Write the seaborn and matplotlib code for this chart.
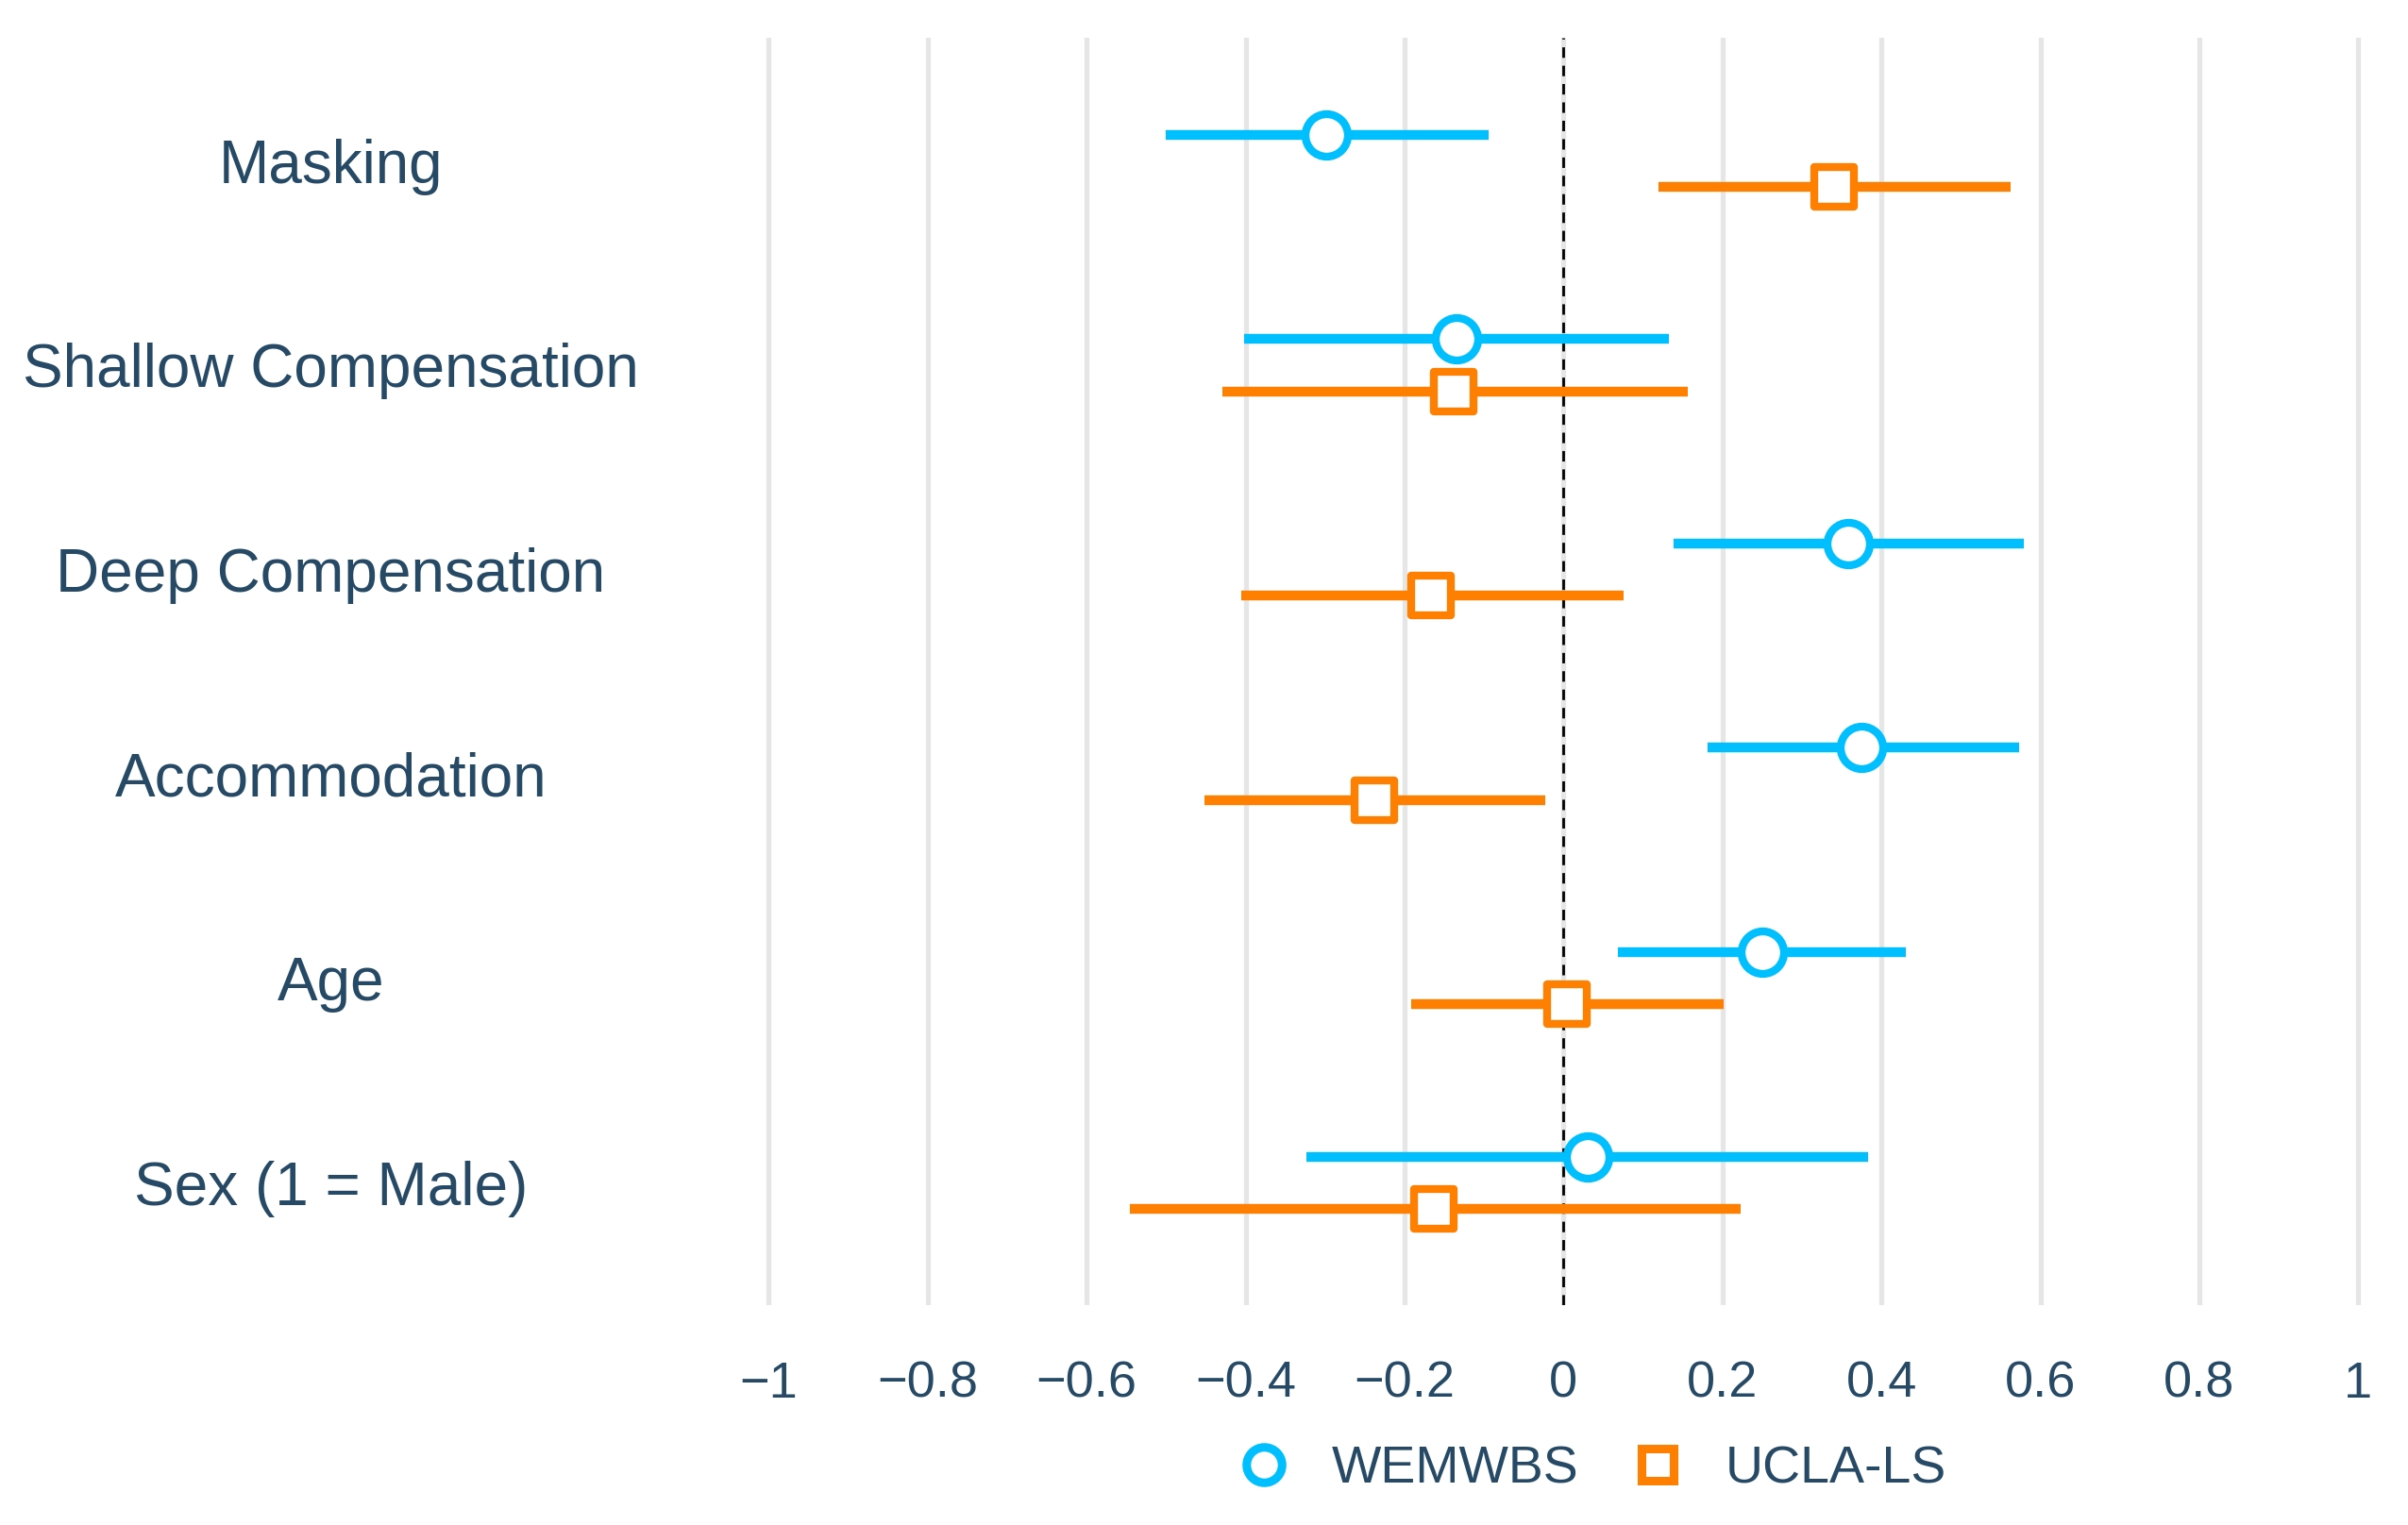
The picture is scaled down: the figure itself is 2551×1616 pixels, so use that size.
import numpy as np
import pandas as pd
import matplotlib
matplotlib.use("Agg")
import matplotlib.pyplot as plt
import seaborn as sns
from matplotlib.lines import Line2D

categories = ["Masking", "Shallow Compensation", "Deep Compensation",
              "Accommodation", "Age", "Sex (1 = Male)"]
series = ["WEMWBS", "UCLA-LS"]

wem_est = [-0.298, -0.135, 0.358, 0.375, 0.250, 0.031]
wem_lo = [-0.500, -0.402, 0.138, 0.181, 0.069, -0.323]
wem_hi = [-0.094, 0.133, 0.579, 0.573, 0.431, 0.383]

ucla_est = [0.340, -0.138, -0.167, -0.238, 0.004, -0.163]
ucla_lo = [0.119, -0.429, -0.406, -0.452, -0.192, -0.546]
ucla_hi = [0.563, 0.156, 0.075, -0.023, 0.202, 0.223]

xticks = [-1, -0.8, -0.6, -0.4, -0.2, 0, 0.2, 0.4, 0.6, 0.8, 1]
xticklabels = ["\u22121", "\u22120.8", "\u22120.6", "\u22120.4", "\u22120.2", "0",
               "0.2", "0.4", "0.6", "0.8", "1"]

colors = {"WEMWBS": "#00BFFF", "UCLA-LS": "#FF7F00"}
markers = {"WEMWBS": "o", "UCLA-LS": "s"}
offsets = {"WEMWBS": -0.128, "UCLA-LS": 0.128}
text_color = "#264A66"

rows = []
for s, est, lo, hi in [("WEMWBS", wem_est, wem_lo, wem_hi),
                       ("UCLA-LS", ucla_est, ucla_lo, ucla_hi)]:
    for i, c in enumerate(categories):
        rows.append({"category": c, "series": s, "est": est[i], "lo": lo[i],
                     "hi": hi[i], "ypos": i + offsets[s]})
df = pd.DataFrame(rows)

sns.set_theme(style="white")
plt.rcParams["font.family"] = ["Liberation Sans", "DejaVu Sans"]

fig = plt.figure(figsize=(25.51, 16.16), dpi=100)
ax = fig.add_axes([0.3176, 0.144, 0.6634, 0.831])

for x in xticks:
    ax.axvline(x, color="#E6E6E6", lw=3.8, zorder=0)
ax.axvline(0, color="black", lw=2, ls=(0, (4, 3)), zorder=1)

for s in series:
    sub = df[df["series"] == s]
    ax.hlines(sub["ypos"], sub["lo"], sub["hi"], color=colors[s], lw=7.5, zorder=2)

for s in series:
    sub = df[df["series"] == s]
    sns.scatterplot(data=sub, x="est", y="ypos", ax=ax, marker=markers[s],
                    s=1050 if s == "WEMWBS" else 900, facecolor="white",
                    edgecolor=colors[s], linewidth=6, zorder=3, legend=False)

ax.set_xlim(-1.005, 1.005)
ax.set_ylim(5.6, -0.6)
ax.set_yticks(range(len(categories)))
ax.set_yticklabels(categories, fontsize=46, color=text_color, ha="center")
ax.tick_params(axis="y", pad=331, length=0)
ax.set_xticks(xticks)
ax.set_xticklabels(xticklabels, fontsize=39, color=text_color)
ax.tick_params(axis="x", length=0, pad=42)
ax.set_xlabel("")
ax.set_ylabel("")
for sp in ax.spines.values():
    sp.set_visible(False)

handles = [Line2D([], [], ls="none", marker=markers[s], markersize=27 if s == "WEMWBS" else 24,
                  markerfacecolor="white", markeredgecolor=colors[s],
                  markeredgewidth=6.5) for s in series]
fig.legend(handles, series, loc="center", bbox_to_anchor=(0.66, 0.036), ncol=2,
           frameon=False, fontsize=40, labelcolor=text_color,
           handletextpad=0.7, columnspacing=0.9, handlelength=1.2)

fig.savefig("out.png", dpi=100, facecolor="white")
